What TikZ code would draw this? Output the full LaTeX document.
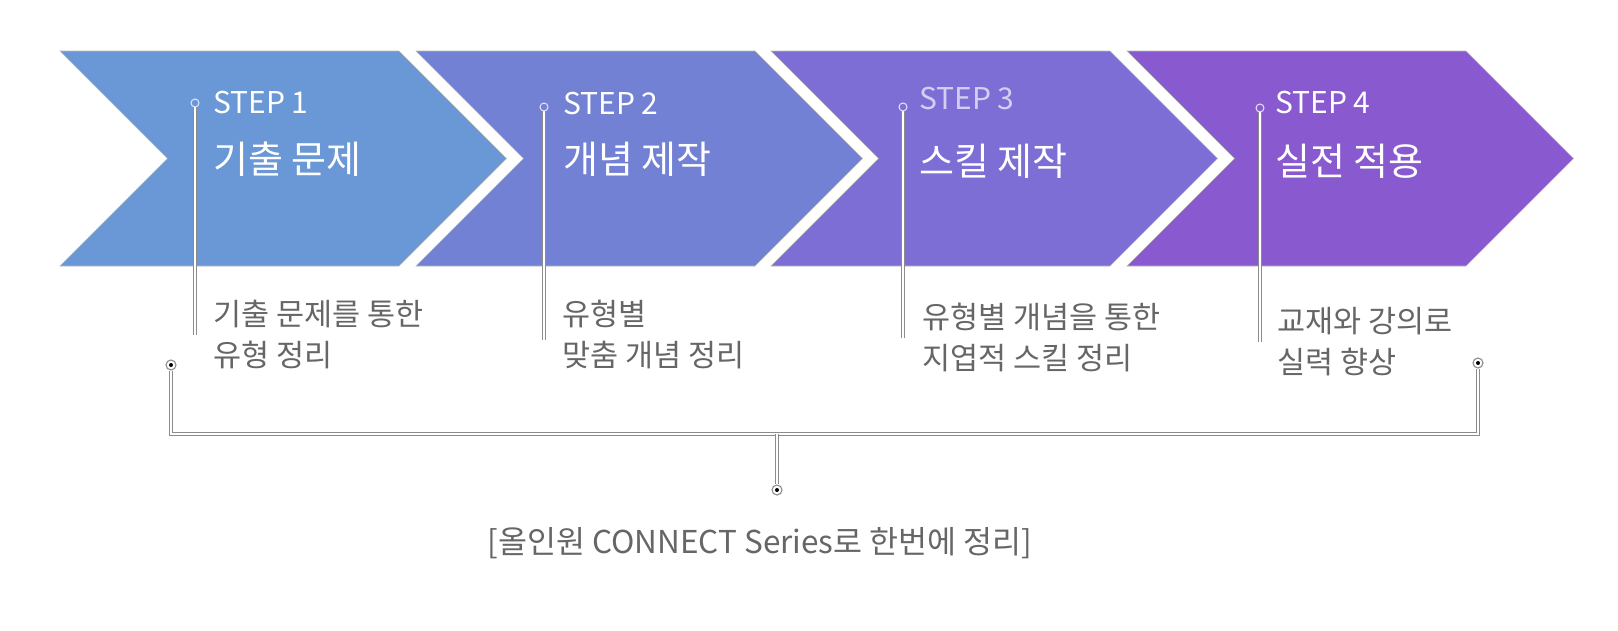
\documentclass[tikz,border=0pt]{standalone}
\usepackage{fontspec}
\usepackage{xcolor}
\setmainfont{Noto Sans CJK KR}
\usetikzlibrary{positioning, calc}
\definecolor{stepa}{HTML}{6A97D5}
\definecolor{stepb}{HTML}{7381D4}
\definecolor{stepc}{HTML}{7D6ED6}
\definecolor{stepd}{HTML}{8959D0}
\definecolor{dim}{HTML}{D6CDF2}
\definecolor{note}{HTML}{666666}
\definecolor{rim}{HTML}{8C8C8C}

\begin{document}
\begin{tikzpicture}[
  x=1pt, y=-1pt,
  chev/.style={draw=gray!55, line width=0.6pt},
  tag/.style={anchor=base west, inner sep=0pt, text=white, font=\fontsize{30}{34}\selectfont},
  ttl/.style={anchor=base west, inner sep=0pt, text=white, font=\fontsize{38}{42}\selectfont},
  desc/.style={anchor=base west, inner sep=0pt, text=note, align=left, font=\fontsize{30.5}{41}\selectfont},
  pin/.style={circle, draw=white!90!blue, line width=1pt, minimum size=8pt, inner sep=0pt},
  lead/.style={draw=rim, double=white, double distance=1.6pt, line width=1.1pt},
  knob/.style={circle, draw=rim, line width=1.1pt, fill=white, minimum size=10pt, inner sep=0pt,
    path picture={\fill[black] (path picture bounding box.center) circle (2pt);}}
]
  \useasboundingbox (0,0) rectangle (1618,630);

  % chevrons
  \draw[chev, fill=stepa] (60,51) -- (399,51) -- (506.5,158.5) -- (399,266) -- (60,266) -- (167.5,158.5) -- cycle;
  \draw[chev, fill=stepb] (416,51) -- (755,51) -- (862.5,158.5) -- (755,266) -- (416,266) -- (523.5,158.5) -- cycle;
  \draw[chev, fill=stepc] (771,51) -- (1110,51) -- (1217.5,158.5) -- (1110,266) -- (771,266) -- (878.5,158.5) -- cycle;
  \draw[chev, fill=stepd] (1127,51) -- (1466,51) -- (1573.5,158.5) -- (1466,266) -- (1127,266) -- (1234.5,158.5) -- cycle;

  % step labels
  \node[tag] (s1) at (213,113) {STEP 1};
  \node[ttl] (t1) at (213,173) {기출 문제};
  \node[tag] (s2) at (563,114) {STEP 2};
  \node[ttl] (t2) at (563,173) {개념 제작};
  \node[tag, text=dim] (s3) at (919,109) {STEP 3};
  \node[ttl] (t3) at (919,175) {스킬 제작};
  \node[tag] (s4) at (1275,113) {STEP 4};
  \node[ttl] (t4) at (1275,175) {실전 적용};

  % leader lines
  \coordinate (e1) at (195,335);
  \coordinate (e2) at (544,340);
  \coordinate (e3) at (903,338);
  \coordinate (e4) at (1260,342);
  \draw[lead] (195,107) -- (e1);
  \draw[lead] (544,111) -- (e2);
  \draw[lead] (903,111) -- (e3);
  \draw[lead] (1260,112) -- (e4);
  \node[pin, fill=stepa] (p1) at (195,103) {};
  \node[pin, fill=stepb] (p2) at (544,107) {};
  \node[pin, fill=stepc] (p3) at (903,107) {};
  \node[pin, fill=stepd] (p4) at (1260,108) {};

  % descriptions (base = last line)
  \node[desc] (d1) at (213,366) {기출 문제를 통한\\유형 정리};
  \node[desc] (d2) at (562,366) {유형별\\맞춤 개념 정리};
  \node[desc] (d3) at (922,369) {유형별 개념을 통한\\지엽적 스킬 정리};
  \node[desc] (d4) at (1277,373) {교재와 강의로\\실력 향상};

  % bracket
  \coordinate (jn) at (777,434);
  \node[knob] (bl) at (171,365) {};
  \node[knob] (br) at (1478,363) {};
  \node[knob] (bm) at (777,490) {};
  \draw[lead] (bl) |- (jn) -| (br);
  \draw[lead] (jn) -- (bm);

  \node[anchor=base, inner sep=0pt, text=note, font=\fontsize{31.5}{35}\selectfont] (sum) at (760,553)
    {[올인원 CONNECT Series로 한번에 정리]};
\end{tikzpicture}
\end{document}
